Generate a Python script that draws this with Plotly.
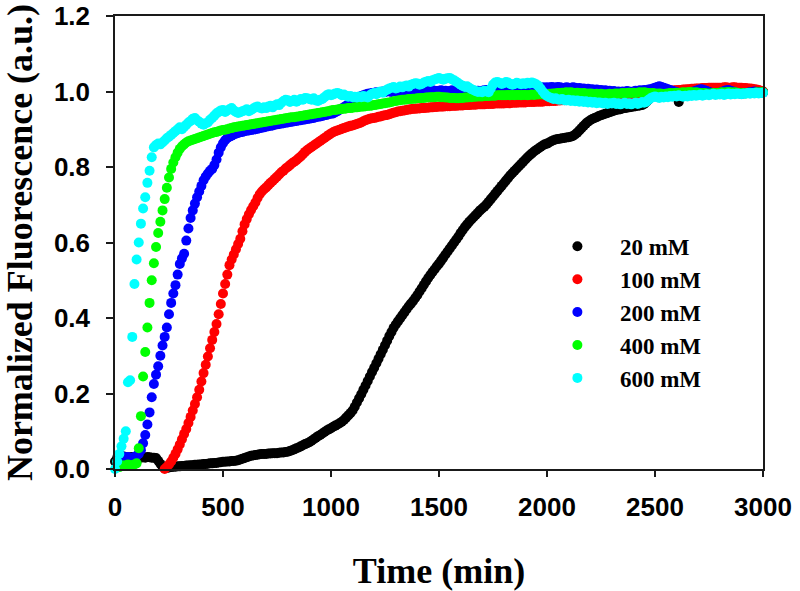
import plotly.graph_objects as go

# ---------------- data ----------------
TIME_STEP = 10  # minutes between readings

series_names = ["20 mM", "100 mM", "200 mM", "400 mM", "600 mM"]
series_colors = ["#000000", "#ff0000", "#0000ff", "#00ff00", "#00ffff"]
series_start = [0, 230, 20, 20, 0]  # first reading time (min)

x_ticks = [0, 500, 1000, 1500, 2000, 2500, 3000]
y_ticks = [0.0, 0.2, 0.4, 0.6, 0.8, 1.0, 1.2]

black_20mM = [
    0.020, 0.030, 0.031, 0.030, 0.033, 0.031, 0.030, 0.031, 0.032, 0.030,
    0.030, 0.031, 0.030, 0.031, 0.030, 0.032, 0.031, 0.030, 0.030, 0.029,
    0.022, 0.014, 0.006, 0.002, 0.003, 0.004, 0.005, 0.006, 0.006, 0.007,
    0.007, 0.008, 0.008, 0.009, 0.009, 0.010, 0.010, 0.011, 0.011, 0.012,
    0.012, 0.013, 0.013, 0.014, 0.015, 0.015, 0.016, 0.016, 0.017, 0.018,
    0.019, 0.019, 0.020, 0.020, 0.021, 0.021, 0.022, 0.023, 0.025, 0.027,
    0.029, 0.031, 0.033, 0.035, 0.036, 0.037, 0.038, 0.039, 0.040, 0.040,
    0.040, 0.041, 0.041, 0.042, 0.042, 0.042, 0.043, 0.044, 0.044, 0.045,
    0.046, 0.048, 0.050, 0.052, 0.055, 0.057, 0.060, 0.063, 0.066, 0.068,
    0.071, 0.075, 0.079, 0.083, 0.087, 0.090, 0.094, 0.098, 0.102, 0.105,
    0.108, 0.112, 0.115, 0.118, 0.121, 0.125, 0.130, 0.136, 0.142, 0.148,
    0.155, 0.165, 0.176, 0.187, 0.198, 0.210, 0.221, 0.233, 0.245, 0.257,
    0.268, 0.280, 0.292, 0.304, 0.316, 0.328, 0.340, 0.352, 0.363, 0.374,
    0.383, 0.391, 0.399, 0.407, 0.415, 0.423, 0.431, 0.438, 0.445, 0.453,
    0.461, 0.470, 0.479, 0.488, 0.497, 0.506, 0.514, 0.522, 0.529, 0.537,
    0.544, 0.552, 0.560, 0.568, 0.576, 0.584, 0.592, 0.600, 0.608, 0.616,
    0.625, 0.633, 0.641, 0.648, 0.655, 0.661, 0.667, 0.673, 0.679, 0.685,
    0.690, 0.695, 0.701, 0.708, 0.715, 0.722, 0.729, 0.736, 0.743, 0.750,
    0.757, 0.764, 0.771, 0.778, 0.784, 0.790, 0.796, 0.802, 0.808, 0.814,
    0.820, 0.826, 0.831, 0.836, 0.841, 0.845, 0.849, 0.853, 0.857, 0.860,
    0.862, 0.865, 0.868, 0.871, 0.873, 0.874, 0.875, 0.876, 0.877, 0.878,
    0.879, 0.880, 0.882, 0.886, 0.891, 0.897, 0.903, 0.909, 0.915, 0.920,
    0.924, 0.927, 0.930, 0.932, 0.935, 0.937, 0.939, 0.941, 0.943, 0.945,
    0.947, 0.949, 0.951, 0.952, 0.953, 0.955, 0.956, 0.957, 0.958, 0.959,
    0.960, 0.961, 0.962, 0.963, 0.964, 0.967, 0.972, 0.978, 0.985, 0.992,
    0.995, 0.997, 0.998, 0.998, 0.997, 0.996, 0.995, 0.995, 0.994, 0.994,
    0.985, 0.972, 0.985, 0.993, 0.995, 0.995, 0.996, 0.996, 0.995, 0.996,
    0.996, 0.997, 0.996, 0.997, 0.997, 0.998, 0.997, 0.998, 0.998, 0.997,
    0.998, 0.998, 0.997, 0.998, 0.999, 0.998, 0.999, 0.998, 0.999, 0.999,
    0.998, 0.999, 0.999, 0.998, 0.999, 1.000, 0.999, 0.999, 1.000, 0.999,
    1.000,
]

red_100mM = [
    0.000, 0.005, 0.012, 0.020, 0.030, 0.040, 0.052,
    0.065, 0.079, 0.093, 0.106, 0.122, 0.138, 0.155, 0.172, 0.190, 0.210,
    0.232, 0.254, 0.276, 0.298, 0.320, 0.342, 0.363, 0.384, 0.410, 0.437,
    0.465, 0.490, 0.515, 0.540, 0.555, 0.568, 0.582, 0.596, 0.610, 0.630,
    0.648, 0.662, 0.675, 0.686, 0.696, 0.706, 0.718, 0.728, 0.735, 0.741,
    0.746, 0.752, 0.758, 0.763, 0.769, 0.774, 0.780, 0.786, 0.790, 0.796,
    0.800, 0.805, 0.810, 0.814, 0.818, 0.823, 0.828, 0.834, 0.840, 0.845,
    0.849, 0.853, 0.857, 0.861, 0.865, 0.869, 0.873, 0.877, 0.881, 0.885,
    0.889, 0.892, 0.895, 0.897, 0.899, 0.901, 0.903, 0.905, 0.907, 0.909,
    0.910, 0.912, 0.914, 0.916, 0.918, 0.921, 0.924, 0.926, 0.928, 0.929,
    0.930, 0.931, 0.933, 0.934, 0.936, 0.937, 0.938, 0.940, 0.942, 0.944,
    0.945, 0.947, 0.948, 0.949, 0.950, 0.951, 0.952, 0.953, 0.954, 0.954,
    0.955, 0.955, 0.956, 0.956, 0.957, 0.957, 0.958, 0.958, 0.959, 0.959,
    0.960, 0.960, 0.960, 0.961, 0.961, 0.961, 0.962, 0.962, 0.962, 0.963,
    0.963, 0.963, 0.964, 0.964, 0.964, 0.965, 0.965, 0.965, 0.966, 0.966,
    0.966, 0.966, 0.967, 0.967, 0.967, 0.967, 0.968, 0.968, 0.968, 0.968,
    0.968, 0.969, 0.969, 0.969, 0.970, 0.970, 0.970, 0.971, 0.971, 0.971,
    0.971, 0.972, 0.972, 0.972, 0.972, 0.973, 0.973, 0.973, 0.973, 0.974,
    0.974, 0.974, 0.975, 0.975, 0.975, 0.976, 0.976, 0.977, 0.977, 0.978,
    0.978, 0.979, 0.979, 0.980, 0.980, 0.981, 0.981, 0.982, 0.982, 0.983,
    0.983, 0.984, 0.984, 0.985, 0.985, 0.986, 0.986, 0.987, 0.987, 0.988,
    0.988, 0.989, 0.989, 0.990, 0.990, 0.991, 0.991, 0.992, 0.992, 0.993,
    0.993, 0.994, 0.994, 0.995, 0.995, 0.996, 0.996, 0.997, 0.997, 0.998,
    0.998, 0.999, 0.999, 1.000, 1.000, 1.001, 1.001, 1.002, 1.002, 1.003,
    1.003, 1.004, 1.004, 1.005, 1.005, 1.006, 1.006, 1.007, 1.007, 1.008,
    1.008, 1.008, 1.009, 1.009, 1.009, 1.010, 1.010, 1.010, 1.010, 1.010,
    1.010, 1.010, 1.011, 1.011, 1.010, 1.010, 1.011, 1.011, 1.010, 1.010,
    1.010, 1.009, 1.009, 1.008, 1.008, 1.007, 1.006, 1.005, 1.004, 1.002,
    1.000,
]

blue_200mM = [
    0.030, 0.035, 0.030, 0.031, 0.032, 0.030, 0.030, 0.032,
    0.035, 0.040, 0.050, 0.068, 0.090, 0.118, 0.150, 0.190, 0.225, 0.250,
    0.272, 0.300, 0.327, 0.350, 0.375, 0.410, 0.440, 0.465, 0.487, 0.515,
    0.543, 0.558, 0.570, 0.605, 0.637, 0.665, 0.685, 0.703, 0.720, 0.735,
    0.750, 0.765, 0.775, 0.783, 0.790, 0.795, 0.805, 0.820, 0.838, 0.852,
    0.863, 0.871, 0.877, 0.880, 0.883, 0.886, 0.888, 0.890, 0.892, 0.893,
    0.895, 0.896, 0.897, 0.898, 0.899, 0.900, 0.901, 0.903, 0.904, 0.905,
    0.907, 0.908, 0.909, 0.910, 0.912, 0.913, 0.914, 0.915, 0.916, 0.917,
    0.918, 0.919, 0.920, 0.921, 0.922, 0.923, 0.924, 0.925, 0.926, 0.927,
    0.928, 0.929, 0.930, 0.932, 0.933, 0.934, 0.935, 0.937, 0.938, 0.940,
    0.941, 0.942, 0.945, 0.948, 0.952, 0.955, 0.958, 0.962, 0.966, 0.970,
    0.974, 0.978, 0.982, 0.985, 0.988, 0.990, 0.992, 0.994, 0.995, 0.996,
    0.997, 0.998, 0.997, 0.999, 1.000, 0.998, 1.001, 1.000, 0.999, 1.002,
    1.001, 1.000, 1.003, 1.002, 1.001, 1.004, 1.002, 1.003, 1.001, 1.002,
    1.003, 1.001, 1.002, 1.004, 1.003, 1.002, 1.004, 1.003, 1.002, 1.001,
    1.002, 1.003, 1.001, 1.002, 1.000, 1.001, 1.003, 1.002, 1.001, 1.000,
    1.001, 1.002, 1.000, 1.001, 1.002, 1.003, 1.001, 1.000, 1.002, 1.001,
    1.002, 1.003, 1.004, 1.003, 1.005, 1.004, 1.006, 1.005, 1.004, 1.006,
    1.005, 1.007, 1.006, 1.008, 1.007, 1.006, 1.008, 1.007, 1.009, 1.008,
    1.007, 1.009, 1.008, 1.010, 1.009, 1.008, 1.010, 1.009, 1.011, 1.010,
    1.011, 1.010, 1.012, 1.011, 1.010, 1.012, 1.011, 1.010, 1.009, 1.011,
    1.010, 1.009, 1.011, 1.010, 1.008, 1.009, 1.007, 1.008, 1.006, 1.007,
    1.005, 1.006, 1.004, 1.005, 1.003, 1.004, 1.002, 1.003, 1.001, 1.002,
    1.000, 1.001, 0.999, 1.000, 0.998, 1.000, 0.999, 1.001, 1.000, 0.999,
    1.000, 1.002, 1.001, 1.003, 1.002, 1.004, 1.003, 1.005, 1.006, 1.008,
    1.010, 1.012, 1.014, 1.012, 1.010, 1.008, 1.006, 1.004, 1.002, 1.000,
    0.998, 0.996, 0.994, 0.993, 0.992, 0.994, 0.996, 0.998, 1.000, 1.002,
    1.004, 1.006, 1.005, 1.003, 1.001, 0.999, 0.997, 0.995, 0.994, 0.995,
    0.997, 0.999, 1.001, 1.003, 1.004, 1.002, 1.000, 0.998, 0.996, 0.995,
    0.994, 0.995, 0.996, 0.997, 0.998, 0.999, 1.000, 0.999, 0.998, 0.997,
    0.997,
]

green_400mM = [
    0.005, 0.010, 0.008, 0.010, 0.012, 0.010, 0.010, 0.012,
    0.015, 0.055, 0.140, 0.245, 0.310, 0.375, 0.440, 0.500, 0.545, 0.588,
    0.625, 0.655, 0.685, 0.715, 0.745, 0.772, 0.795, 0.812, 0.826, 0.838,
    0.848, 0.855, 0.860, 0.865, 0.868, 0.870, 0.872, 0.874, 0.876, 0.878,
    0.880, 0.882, 0.884, 0.886, 0.888, 0.890, 0.892, 0.893, 0.895, 0.897,
    0.898, 0.899, 0.900, 0.902, 0.903, 0.905, 0.906, 0.907, 0.908, 0.909,
    0.910, 0.911, 0.912, 0.913, 0.914, 0.915, 0.916, 0.917, 0.918, 0.919,
    0.920, 0.921, 0.922, 0.923, 0.924, 0.925, 0.926, 0.927, 0.928, 0.929,
    0.930, 0.931, 0.932, 0.932, 0.933, 0.934, 0.935, 0.936, 0.937, 0.938,
    0.939, 0.940, 0.941, 0.942, 0.943, 0.944, 0.945, 0.946, 0.947, 0.948,
    0.950, 0.951, 0.951, 0.952, 0.953, 0.954, 0.954, 0.955, 0.956, 0.956,
    0.957, 0.958, 0.958, 0.959, 0.960, 0.960, 0.961, 0.962, 0.962, 0.963,
    0.964, 0.965, 0.966, 0.967, 0.968, 0.969, 0.970, 0.971, 0.972, 0.974,
    0.975, 0.976, 0.977, 0.978, 0.978, 0.979, 0.980, 0.980, 0.981, 0.981,
    0.982, 0.982, 0.983, 0.983, 0.984, 0.984, 0.985, 0.985, 0.985, 0.986,
    0.986, 0.985, 0.985, 0.984, 0.984, 0.983, 0.983, 0.983, 0.982, 0.982,
    0.983, 0.983, 0.984, 0.984, 0.985, 0.985, 0.986, 0.986, 0.987, 0.987,
    0.987, 0.988, 0.988, 0.988, 0.989, 0.989, 0.989, 0.990, 0.990, 0.990,
    0.990, 0.990, 0.991, 0.990, 0.991, 0.990, 0.991, 0.991, 0.990, 0.991,
    0.991, 0.990, 0.991, 0.992, 0.991, 0.992, 0.992, 0.993, 0.992, 0.993,
    0.993, 0.994, 0.994, 0.995, 0.995, 0.996, 0.996, 0.997, 0.997, 0.998,
    0.997, 0.998, 0.997, 0.996, 0.997, 0.996, 0.995, 0.996, 0.995, 0.994,
    0.995, 0.994, 0.993, 0.994, 0.993, 0.994, 0.993, 0.992, 0.993, 0.994,
    0.993, 0.994, 0.995, 0.994, 0.995, 0.996, 0.995, 0.996, 0.997, 0.996,
    0.997, 0.996, 0.997, 0.998, 0.997, 0.998, 0.997, 0.996, 0.995, 0.996,
    0.995, 0.994, 0.995, 0.994, 0.993, 0.994, 0.995, 0.996, 0.995, 0.996,
    0.997, 0.996, 0.997, 0.998, 0.997, 0.998, 0.999, 0.998, 0.997, 0.998,
    0.997, 0.996, 0.995, 0.996, 0.995, 0.994, 0.995, 0.996, 0.995, 0.996,
    0.997, 0.998, 0.997, 0.998, 0.999, 0.998, 0.997, 0.998, 0.997, 0.996,
    0.995, 0.996, 0.995, 0.996, 0.997, 0.996, 0.997, 0.998, 0.997, 0.998,
    0.998,
]

cyan_600mM = [
    0.000, 0.020, 0.040, 0.060, 0.080, 0.100, 0.230, 0.235, 0.350, 0.490,
    0.555, 0.600, 0.650, 0.690, 0.720, 0.758, 0.790, 0.826, 0.852, 0.858,
    0.862, 0.860, 0.865, 0.870, 0.876, 0.880, 0.885, 0.890, 0.895, 0.900,
    0.905, 0.900, 0.906, 0.912, 0.918, 0.922, 0.928, 0.930, 0.924, 0.920,
    0.915, 0.912, 0.916, 0.918, 0.925, 0.930, 0.936, 0.942, 0.946, 0.950,
    0.951, 0.946, 0.950, 0.953, 0.956, 0.950, 0.946, 0.943, 0.945, 0.948,
    0.950, 0.953, 0.948, 0.951, 0.955, 0.958, 0.960, 0.957, 0.955, 0.958,
    0.956, 0.960, 0.962, 0.958, 0.963, 0.966, 0.964, 0.970, 0.975, 0.978,
    0.977, 0.972, 0.975, 0.978, 0.973, 0.976, 0.980, 0.978, 0.983, 0.982,
    0.980, 0.978, 0.982, 0.976, 0.975, 0.978, 0.980, 0.985, 0.990, 0.993,
    0.990, 0.992, 0.995, 0.996, 0.994, 0.990, 0.992, 0.989, 0.986, 0.988,
    0.985, 0.986, 0.984, 0.987, 0.985, 0.988, 0.986, 0.984, 0.990, 0.994,
    0.996, 0.993, 0.998, 1.000, 0.997, 1.002, 1.005, 1.008, 1.010, 1.012,
    1.008, 1.010, 1.013, 1.011, 1.014, 1.016, 1.013, 1.018, 1.020, 1.022,
    1.021, 1.018, 1.020, 1.024, 1.026, 1.028, 1.025, 1.030, 1.032, 1.034,
    1.036, 1.033, 1.031, 1.034, 1.035, 1.036, 1.032, 1.030, 1.026, 1.022,
    1.018, 1.015, 1.012, 1.014, 1.010, 1.006, 1.004, 1.001, 0.999, 1.000,
    0.998, 1.002, 1.000, 0.998, 1.008, 1.018, 1.024, 1.025, 1.023, 1.020,
    1.022, 1.025, 1.024, 1.020, 1.018, 1.020, 1.023, 1.021, 1.019, 1.022,
    1.020, 1.023, 1.021, 1.024, 1.022, 1.019, 1.015, 1.008, 1.000, 0.993,
    0.988, 0.985, 0.983, 0.980, 0.982, 0.979, 0.978, 0.980, 0.977, 0.976,
    0.978, 0.975, 0.977, 0.974, 0.976, 0.973, 0.975, 0.972, 0.974, 0.971,
    0.973, 0.970, 0.972, 0.969, 0.971, 0.970, 0.968, 0.970, 0.967, 0.969,
    0.968, 0.970, 0.967, 0.969, 0.966, 0.968, 0.970, 0.967, 0.969, 0.966,
    0.968, 0.970, 0.967, 0.969, 0.972, 0.970, 0.973, 0.978, 0.982, 0.985,
    0.987, 0.985, 0.983, 0.986, 0.984, 0.987, 0.985, 0.988, 0.986, 0.989,
    0.987, 0.990, 0.988, 0.986, 0.989, 0.987, 0.990, 0.988, 0.991, 0.989,
    0.990, 0.992, 0.989, 0.991, 0.993, 0.990, 0.992, 0.994, 0.991, 0.993,
    0.992, 0.994, 0.991, 0.993, 0.995, 0.992, 0.994, 0.993, 0.995, 0.994,
    0.993, 0.995, 0.994, 0.996, 0.994, 0.996, 0.995, 0.997, 0.995, 0.996,
    0.997,
]

series_values = [black_20mM, red_100mM, blue_200mM, green_400mM, cyan_600mM]

# ---------------- figure ----------------
SERIF = "Liberation Serif, Times New Roman, serif"
SANS = "Liberation Sans, Arial, sans-serif"
AXIS_COLOR = "#1a1a1a"

fig = go.Figure()
for name, color, start, vals in zip(series_names, series_colors, series_start, series_values):
    times = [start + TIME_STEP * i for i in range(len(vals))]
    fig.add_trace(go.Scatter(
        x=times, y=vals, mode="markers", name=name,
        marker=dict(color=color, size=10, line=dict(width=0)),
        cliponaxis=False,
    ))

axis_common = dict(
    showgrid=False, zeroline=False, automargin=False,
    showline=True, linecolor=AXIS_COLOR, linewidth=1.5, mirror=True,
    ticks="outside", tickcolor=AXIS_COLOR, tickwidth=1.5,
    ticklabeloverflow="allow",
    tickfont=dict(family=SANS, size=26, color="black", weight="bold"),
)

fig.update_layout(
    width=800, height=591,
    margin=dict(l=115, r=37, t=16, b=122),
    paper_bgcolor="white", plot_bgcolor="white",
    xaxis=dict(
        range=[0, 3000], tickvals=x_ticks, ticklen=6, ticklabelstandoff=8,
        title=dict(text="Time (min)", standoff=45,
                   font=dict(family=SERIF, size=36, color="black", weight="bold")),
        **axis_common,
    ),
    yaxis=dict(
        range=[0, 1.2], tickvals=y_ticks, tickformat=".1f", ticklen=7,
        ticklabelstandoff=11,
        title=dict(text="Normalized Fluorescence (a.u.)", standoff=13,
                   font=dict(family=SERIF, size=36, color="black", weight="bold")),
        **axis_common,
    ),
    showlegend=True,
    legend=dict(
        x=0.648, y=0.539, xanchor="left", yanchor="top",
        font=dict(family=SERIF, size=23, color="black", weight="bold"),
        bgcolor="rgba(0,0,0,0)", borderwidth=0,
        itemwidth=75, tracegroupgap=0,
    ),
)

# Remove the default page margin so the figure sits at the window's top-left corner.
fig.write_html("out.html", config={"displayModeBar": False},
               post_script="document.body.style.margin='0px';")
